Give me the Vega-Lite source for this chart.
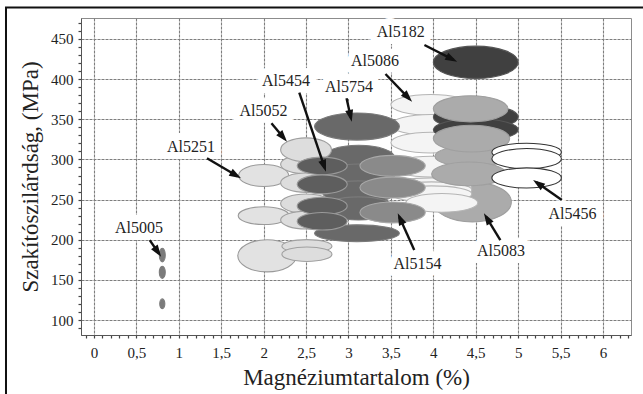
{
  "$schema": "https://vega.github.io/schema/vega-lite/v6.json",
  "width": 550,
  "height": 317,
  "autosize": {"type": "none"},
  "padding": {"left": 81, "top": 18, "right": 12, "bottom": 59},
  "background": "white",
  "config": {
    "view": {"stroke": "#8c8c8c", "strokeWidth": 1},
    "axis": {
      "grid": true, "gridColor": "#7e7e7e", "gridDash": [3, 1], "gridWidth": 1.1,
      "domainColor": "#555", "domainWidth": 1,
      "tickColor": "#444", "tickSize": 3, "tickWidth": 1.2,
      "labelFont": "Liberation Serif", "labelFontSize": 15, "labelColor": "#222",
      "labelOverlap": false, "labelFlush": false,
      "titleFont": "Liberation Serif", "titleFontSize": 23, "titleFontWeight": "normal", "titleColor": "#222"
    }
  },
  "datasets": {
    "ellipses": [
      {"alloy":"Al5251","mg":2.0,"rm":280,"mg_span":0.59,"rm_span":27},
      {"alloy":"Al5251","mg":2.0,"rm":230,"mg_span":0.6,"rm_span":23},
      {"alloy":"Al5251","mg":2.04,"rm":180,"mg_span":0.69,"rm_span":40},
      {"alloy":"Al5754","mg":3.12,"rm":302,"mg_span":0.85,"rm_span":32},
      {"alloy":"Al5754","mg":3.12,"rm":280,"mg_span":0.85,"rm_span":28},
      {"alloy":"Al5754","mg":3.12,"rm":259,"mg_span":0.85,"rm_span":28},
      {"alloy":"Al5754","mg":3.12,"rm":239,"mg_span":0.85,"rm_span":28},
      {"alloy":"Al5754","mg":3.1,"rm":208,"mg_span":1.0,"rm_span":21},
      {"alloy":"Al5052","mg":2.5,"rm":294,"mg_span":0.6,"rm_span":24},
      {"alloy":"Al5052","mg":2.5,"rm":271,"mg_span":0.6,"rm_span":24},
      {"alloy":"Al5052","mg":2.5,"rm":245,"mg_span":0.6,"rm_span":24},
      {"alloy":"Al5052","mg":2.5,"rm":224.5,"mg_span":0.6,"rm_span":23},
      {"alloy":"Al5052","mg":2.5,"rm":312,"mg_span":0.6,"rm_span":29},
      {"alloy":"Al5052","mg":2.51,"rm":192,"mg_span":0.59,"rm_span":17},
      {"alloy":"Al5052","mg":2.51,"rm":182,"mg_span":0.59,"rm_span":18},
      {"alloy":"Al5454","mg":2.69,"rm":292,"mg_span":0.59,"rm_span":22},
      {"alloy":"Al5454","mg":2.69,"rm":269,"mg_span":0.59,"rm_span":23},
      {"alloy":"Al5454","mg":2.69,"rm":242,"mg_span":0.59,"rm_span":22},
      {"alloy":"Al5454","mg":2.69,"rm":223,"mg_span":0.59,"rm_span":22},
      {"alloy":"Al5083","mg":4.46,"rm":247,"mg_span":0.92,"rm_span":50},
      {"alloy":"Al5086","mg":3.97,"rm":368,"mg_span":0.94,"rm_span":27},
      {"alloy":"Al5086","mg":3.97,"rm":343,"mg_span":0.94,"rm_span":26},
      {"alloy":"Al5086","mg":3.97,"rm":321,"mg_span":0.94,"rm_span":26},
      {"alloy":"Al5086","mg":3.97,"rm":291,"mg_span":0.94,"rm_span":27},
      {"alloy":"Al5086","mg":3.98,"rm":267,"mg_span":0.95,"rm_span":20},
      {"alloy":"Al5086","mg":3.98,"rm":262,"mg_span":0.95,"rm_span":20},
      {"alloy":"Al5086","mg":3.98,"rm":257,"mg_span":0.95,"rm_span":20},
      {"alloy":"Al5086","mg":4.1,"rm":246,"mg_span":0.85,"rm_span":24},
      {"alloy":"Al5154","mg":3.52,"rm":292,"mg_span":0.77,"rm_span":27},
      {"alloy":"Al5154","mg":3.52,"rm":265,"mg_span":0.77,"rm_span":26},
      {"alloy":"Al5154","mg":3.52,"rm":234,"mg_span":0.77,"rm_span":25},
      {"alloy":"Al5182","mg":4.5,"rm":353,"mg_span":1.0,"rm_span":32},
      {"alloy":"Al5182","mg":4.5,"rm":337,"mg_span":1.0,"rm_span":28},
      {"alloy":"Al5083","mg":4.45,"rm":304,"mg_span":0.86,"rm_span":26},
      {"alloy":"Al5083","mg":4.44,"rm":363,"mg_span":0.88,"rm_span":33},
      {"alloy":"Al5083","mg":4.45,"rm":326,"mg_span":0.9,"rm_span":34},
      {"alloy":"Al5083","mg":4.42,"rm":282,"mg_span":0.88,"rm_span":29},
      {"alloy":"Al5456","mg":5.1,"rm":309,"mg_span":0.82,"rm_span":22},
      {"alloy":"Al5456","mg":5.1,"rm":301,"mg_span":0.82,"rm_span":26},
      {"alloy":"Al5456","mg":5.1,"rm":277,"mg_span":0.82,"rm_span":25},
      {"alloy":"Al5754","mg":3.1,"rm":341,"mg_span":1.0,"rm_span":33},
      {"alloy":"Al5182","mg":4.5,"rm":421,"mg_span":1.0,"rm_span":41},
      {"alloy":"Al5005","mg":0.805,"rm":181,"mg_span":0.07,"rm_span":16.6},
      {"alloy":"Al5005","mg":0.805,"rm":159.5,"mg_span":0.07,"rm_span":15.4},
      {"alloy":"Al5005","mg":0.805,"rm":120.3,"mg_span":0.06,"rm_span":11.6}
    ],
    "labels": [
      {"name":"Al5182","tx":3.615,"ty":458.3,"ax":3.895,"ay":442.5,"bx":4.239,"by":424.0},
      {"name":"Al5086","tx":3.312,"ty":422.5,"ax":3.436,"ay":406.4,"bx":3.717,"by":375.5},
      {"name":"Al5454","tx":2.263,"ty":397.4,"ax":2.42,"ay":383.1,"bx":2.72,"by":289.4},
      {"name":"Al5754","tx":3.006,"ty":390.2,"ax":2.977,"ay":376.1,"bx":3.028,"by":351.8},
      {"name":"Al5052","tx":1.998,"ty":360.3,"ax":2.092,"ay":345.0,"bx":2.245,"by":325.9},
      {"name":"Al5251","tx":1.143,"ty":316.1,"ax":1.332,"ay":301.4,"bx":1.693,"by":279.0},
      {"name":"Al5005","tx":0.53,"ty":215.2,"ax":0.657,"ay":199.6,"bx":0.765,"by":182.9},
      {"name":"Al5154","tx":3.814,"ty":169.7,"ax":3.775,"ay":187.2,"bx":3.6,"by":228.4},
      {"name":"Al5083","tx":4.798,"ty":185.9,"ax":4.79,"ay":199.6,"bx":4.621,"by":228.7},
      {"name":"Al5456","tx":5.641,"ty":232.0,"ax":5.515,"ay":249.4,"bx":5.215,"by":271.5}
    ]
  },
  "layer": [
    {
      "data": {"name": "ellipses"},
      "mark": {"type": "point", "filled": true, "opacity": 1, "strokeWidth": 1.1},
      "encoding": {
        "x": {
          "field": "mg", "type": "quantitative",
          "scale": {"domain": [-0.1532, 6.3303], "nice": false, "zero": false},
          "axis": {
            "title": "Magnéziumtartalom (%)",
            "tickCount": 1000,
            "values": [-0.1,0,0.1,0.2,0.3,0.4,0.5,0.6,0.7,0.8,0.9,1,1.1,1.2,1.3,1.4,1.5,1.6,1.7,1.8,1.9,2,2.1,2.2,2.3,2.4,2.5,2.6,2.7,2.8,2.9,3,3.1,3.2,3.3,3.4,3.5,3.6,3.7,3.8,3.9,4,4.1,4.2,4.3,4.4,4.5,4.6,4.7,4.8,4.9,5,5.1,5.2,5.3,5.4,5.5,5.6,5.7,5.8,5.9,6,6.1,6.2,6.3],
            "labelExpr": "abs(datum.value*2-round(datum.value*2))<0.001 ? replace(format(datum.value,'.1~f'),'.',',') : ''",
            "gridOpacity": {"condition": {"test": "abs(datum.value*2-round(datum.value*2))<0.001", "value": 1}, "value": 0},
            "labelFont": "Liberation Serif", "labelFontSize": 15,
            "titleFont": "Liberation Serif", "titleFontSize": 23,
            "labelPadding": 7,
            "titlePadding": 6
          }
        },
        "y": {
          "field": "rm", "type": "quantitative",
          "scale": {"domain": [81.38, 476.15], "nice": false, "zero": false},
          "axis": {
            "title": "Szakítószilárdság, (MPa)",
            "tickCount": 1000,
            "values": [90,100,110,120,130,140,150,160,170,180,190,200,210,220,230,240,250,260,270,280,290,300,310,320,330,340,350,360,370,380,390,400,410,420,430,440,450,460,470],
            "labelExpr": "datum.value % 50 === 0 ? format(datum.value, 'd') : ''",
            "gridOpacity": {"condition": {"test": "datum.value % 50 === 0", "value": 1}, "value": 0},
            "labelFont": "Liberation Serif", "labelFontSize": 15,
            "titleFont": "Liberation Serif", "titleFontSize": 23,
            "labelPadding": 5,
            "titlePadding": 8
          }
        },
        "size": {"field": "mg_span", "type": "quantitative", "scale": {"type": "pow", "exponent": 2, "domain": [0, 1], "range": [0, 7196]}, "legend": null},
        "shape": {
          "condition": [
            {"test": "datum.rm_span/datum.mg_span<22.7", "value": "M-1,0C-1,-0.1105,-0.5523,-0.2,0,-0.2C0.5523,-0.2,1,-0.1105,1,0C1,0.1105,0.5523,0.2,0,0.2C-0.5523,0.2,-1,0.1105,-1,0Z"},
            {"test": "datum.rm_span/datum.mg_span<25.9", "value": "M-1,0C-1,-0.127,-0.5523,-0.23,0,-0.23C0.5523,-0.23,1,-0.127,1,0C1,0.127,0.5523,0.23,0,0.23C-0.5523,0.23,-1,0.127,-1,0Z"},
            {"test": "datum.rm_span/datum.mg_span<29.05", "value": "M-1,0C-1,-0.1436,-0.5523,-0.26,0,-0.26C0.5523,-0.26,1,-0.1436,1,0C1,0.1436,0.5523,0.26,0,0.26C-0.5523,0.26,-1,0.1436,-1,0Z"},
            {"test": "datum.rm_span/datum.mg_span<32.2", "value": "M-1,0C-1,-0.1602,-0.5523,-0.29,0,-0.29C0.5523,-0.29,1,-0.1602,1,0C1,0.1602,0.5523,0.29,0,0.29C-0.5523,0.29,-1,0.1602,-1,0Z"},
            {"test": "datum.rm_span/datum.mg_span<35.4", "value": "M-1,0C-1,-0.1767,-0.5523,-0.32,0,-0.32C0.5523,-0.32,1,-0.1767,1,0C1,0.1767,0.5523,0.32,0,0.32C-0.5523,0.32,-1,0.1767,-1,0Z"},
            {"test": "datum.rm_span/datum.mg_span<38.6", "value": "M-1,0C-1,-0.1933,-0.5523,-0.35,0,-0.35C0.5523,-0.35,1,-0.1933,1,0C1,0.1933,0.5523,0.35,0,0.35C-0.5523,0.35,-1,0.1933,-1,0Z"},
            {"test": "datum.rm_span/datum.mg_span<41.7", "value": "M-1,0C-1,-0.2099,-0.5523,-0.38,0,-0.38C0.5523,-0.38,1,-0.2099,1,0C1,0.2099,0.5523,0.38,0,0.38C-0.5523,0.38,-1,0.2099,-1,0Z"},
            {"test": "datum.rm_span/datum.mg_span<44.9", "value": "M-1,0C-1,-0.2264,-0.5523,-0.41,0,-0.41C0.5523,-0.41,1,-0.2264,1,0C1,0.2264,0.5523,0.41,0,0.41C-0.5523,0.41,-1,0.2264,-1,0Z"},
            {"test": "datum.rm_span/datum.mg_span<48.1", "value": "M-1,0C-1,-0.243,-0.5523,-0.44,0,-0.44C0.5523,-0.44,1,-0.243,1,0C1,0.243,0.5523,0.44,0,0.44C-0.5523,0.44,-1,0.243,-1,0Z"},
            {"test": "datum.rm_span/datum.mg_span<51.8", "value": "M-1,0C-1,-0.2596,-0.5523,-0.47,0,-0.47C0.5523,-0.47,1,-0.2596,1,0C1,0.2596,0.5523,0.47,0,0.47C-0.5523,0.47,-1,0.2596,-1,0Z"},
            {"test": "datum.rm_span/datum.mg_span<56", "value": "M-1,0C-1,-0.2817,-0.5523,-0.51,0,-0.51C0.5523,-0.51,1,-0.2817,1,0C1,0.2817,0.5523,0.51,0,0.51C-0.5523,0.51,-1,0.2817,-1,0Z"},
            {"test": "datum.rm_span/datum.mg_span<80", "value": "M-1,0C-1,-0.3038,-0.5523,-0.55,0,-0.55C0.5523,-0.55,1,-0.3038,1,0C1,0.3038,0.5523,0.55,0,0.55C-0.5523,0.55,-1,0.3038,-1,0Z"},
            {"test": "datum.rm_span/datum.mg_span<207", "value": "M-1,0C-1,-1.0494,-0.5523,-1.9,0,-1.9C0.5523,-1.9,1,-1.0494,1,0C1,1.0494,0.5523,1.9,0,1.9C-0.5523,1.9,-1,1.0494,-1,0Z"},
            {"test": "datum.rm_span/datum.mg_span<228", "value": "M-1,0C-1,-1.1322,-0.5523,-2.05,0,-2.05C0.5523,-2.05,1,-1.1322,1,0C1,1.1322,0.5523,2.05,0,2.05C-0.5523,2.05,-1,1.1322,-1,0Z"}
          ],
          "value": "M-1,0C-1,-1.2703,-0.5523,-2.3,0,-2.3C0.5523,-2.3,1,-1.2703,1,0C1,1.2703,0.5523,2.3,0,2.3C-0.5523,2.3,-1,1.2703,-1,0Z"
        },
        "fill": {
          "field": "alloy", "type": "nominal", "legend": null,
          "scale": {
            "domain": ["Al5005","Al5251","Al5052","Al5454","Al5754","Al5154","Al5086","Al5182","Al5083","Al5456"],
            "range": ["#7b7b7b","#e2e2e2","#dddddd","#5e5e5e","#696969","#8a8a8a","#f4f4f4","#404040","#ababab","#ffffff"]
          }
        },
        "stroke": {
          "field": "alloy", "type": "nominal", "legend": null,
          "scale": {
            "domain": ["Al5005","Al5251","Al5052","Al5454","Al5754","Al5154","Al5086","Al5182","Al5083","Al5456"],
            "range": ["#7b7b7b","#9a9a9a","#a0a0a0","#9a9a9a","#7a7a7a","#a8a8a8","#b5b5b5","#555555","#9f9f9f","#333333"]
          }
        }
      }
    },
    {
      "data": {"values": [{}]},
      "mark": {"type": "rect", "fill": "transparent", "fillOpacity": 0, "stroke": "#111", "strokeWidth": 2},
      "encoding": {
        "x": {"datum": -1.0374, "type": "quantitative", "scale": {"domain": [-0.1532, 6.3303], "nice": false, "zero": false}},
        "x2": {"datum": 6.6},
        "y": {"datum": 489.2, "type": "quantitative", "scale": {"domain": [81.38, 476.15], "nice": false, "zero": false}},
        "y2": {"datum": 0}
      }
    },
    {
      "data": {"name": "labels"},
      "mark": {"type": "text", "font": "Liberation Serif", "fontSize": 16, "fill": "white", "stroke": "white", "strokeWidth": 14, "strokeJoin": "round", "baseline": "middle", "align": "center"},
      "encoding": {
        "x": {"field": "tx", "type": "quantitative", "scale": {"domain": [-0.1532, 6.3303], "nice": false, "zero": false}},
        "y": {"field": "ty", "type": "quantitative", "scale": {"domain": [81.38, 476.15], "nice": false, "zero": false}},
        "text": {"field": "name"}
      }
    },
    {
      "data": {"name": "labels"},
      "mark": {"type": "text", "font": "Liberation Serif", "fontSize": 16, "fill": "#222", "baseline": "middle", "align": "center"},
      "encoding": {
        "x": {"field": "tx", "type": "quantitative", "scale": {"domain": [-0.1532, 6.3303], "nice": false, "zero": false}},
        "y": {"field": "ty", "type": "quantitative", "scale": {"domain": [81.38, 476.15], "nice": false, "zero": false}},
        "text": {"field": "name"}
      }
    },
    {
      "data": {"name": "labels"},
      "mark": {"type": "rule", "stroke": "#111", "strokeWidth": 2.4, "strokeCap": "butt"},
      "encoding": {
        "x": {"field": "ax", "type": "quantitative", "scale": {"domain": [-0.1532, 6.3303], "nice": false, "zero": false}},
        "y": {"field": "ay", "type": "quantitative", "scale": {"domain": [81.38, 476.15], "nice": false, "zero": false}},
        "x2": {"field": "bx"},
        "y2": {"field": "by"}
      }
    },
    {
      "data": {"name": "labels"},
      "mark": {
        "type": "point", "filled": true, "opacity": 1, "fill": "#111", "strokeWidth": 0, "size": 400,
        "shape": "M0,-0.4L-0.4,0.8L0.4,0.8Z",
        "angle": {"expr": "atan2(scale('x', datum.bx) - scale('x', datum.ax), scale('y', datum.ay) - scale('y', datum.by)) * 180 / PI"}
      },
      "encoding": {
        "x": {"field": "bx", "type": "quantitative", "scale": {"domain": [-0.1532, 6.3303], "nice": false, "zero": false}},
        "y": {"field": "by", "type": "quantitative", "scale": {"domain": [81.38, 476.15], "nice": false, "zero": false}}
      }
    }
  ]
}
